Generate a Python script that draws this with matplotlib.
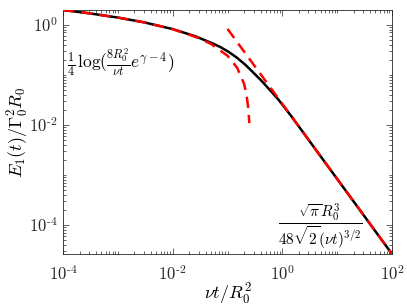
import numpy as np
import matplotlib
matplotlib.use("Agg")
import matplotlib.pyplot as plt
from matplotlib.ticker import LogLocator, NullFormatter, FixedLocator, FuncFormatter

plt.rcParams['mathtext.fontset'] = 'cm'
plt.rcParams['font.family'] = ['DejaVu Serif']

# Exact energy curve
t_exact = [1e-4, 3e-4, 1e-3, 3e-3, 1e-2, 0.0256, 0.0518, 0.0733, 0.1038, 0.148,
           0.2095, 0.297, 0.423, 0.598, 0.849, 1.49, 3.0, 10.0, 30.0, 100.0]
E_exact = [1.967, 1.692, 1.391, 1.117, 0.818, 0.591, 0.43, 0.36, 0.289, 0.22,
           0.16, 0.11, 0.0745, 0.049, 0.0318, 0.0144, 0.00503, 0.000826, 0.000159, 2.61e-5]

# Small-time asymptote (red dashed)
t_small = [1e-4, 3e-4, 1e-3, 3e-3, 1e-2, 3e-2, 0.05, 0.1, 0.15, 0.2, 0.22, 0.24, 0.25]
E_small = [1.967, 1.692, 1.391, 1.117, 0.816, 0.541, 0.413, 0.240, 0.138, 0.0665, 0.0428, 0.021, 0.0108]

# Large-time asymptote (red dashed)
t_large = [0.1, 1.0, 10.0, 100.0]
E_large = [0.826, 0.02611, 0.000826, 2.611e-5]

x_major = [1e-4, 1e-2, 1e0, 1e2]
y_major = [1e-4, 1e-2, 1e0]

fig = plt.figure(figsize=(4.07, 3.08), dpi=100)
ax = fig.add_axes([63/407, 1-254/308, (392-63)/407, (254-10)/308])

ax.plot(t_exact, E_exact, color='black', lw=1.8, zorder=2)
ax.plot(t_small, E_small, color='#ff0000', lw=1.8, ls=(0, (4.5, 2.8)), zorder=3)
ax.plot(t_large, E_large, color='#ff0000', lw=1.8, ls=(0, (4.5, 2.8)), zorder=3)

ax.set_xscale('log')
ax.set_yscale('log')
ax.set_xlim(1e-4, 1e2)
ax.set_ylim(2.61e-5, 1.97)

def fmt(v, pos):
    e = int(round(np.log10(v)))
    if e < 0:
        return r'$10^{\text{-}%d}$' % (-e)
    return r'$10^{%d}$' % e

ax.xaxis.set_major_locator(FixedLocator(x_major))
ax.yaxis.set_major_locator(FixedLocator(y_major))
ax.xaxis.set_major_formatter(FuncFormatter(fmt))
ax.yaxis.set_major_formatter(FuncFormatter(fmt))
ax.xaxis.set_minor_locator(LogLocator(base=10, subs=np.arange(1, 10), numticks=30))
ax.yaxis.set_minor_locator(LogLocator(base=10, subs=np.arange(1, 10), numticks=30))
ax.xaxis.set_minor_formatter(NullFormatter())
ax.yaxis.set_minor_formatter(NullFormatter())

gray = '#262626'
for s in ax.spines.values():
    s.set_color(gray)
    s.set_linewidth(0.6)
ax.tick_params(which='both', direction='in', top=True, right=True, colors=gray,
               labelcolor='#262626', labelsize=12, width=0.5)
ax.tick_params(which='major', length=4)
ax.tick_params(which='minor', length=2)
ax.tick_params(axis='x', pad=8)
ax.tick_params(axis='y', pad=4)

ax.set_xlabel(r'$\nu t/R_0^2$', fontsize=13)
ax.set_ylabel(r'$E_1(t)/\Gamma_0^2 R_0$', fontsize=13)
ax.xaxis.set_label_coords((228 - 63) / 329, -(294 - 254) / 244)
ax.yaxis.set_label_coords(-(63 - 18) / 329, 0.5)
ax.xaxis.label.set_va('center')
ax.yaxis.label.set_va('center')

ax.text(0.012, 0.787, r'$\frac{1}{4}\,\log(\frac{8R_0^2}{\nu t}e^{\gamma-4})$',
        transform=ax.transAxes, ha='left', va='center', fontsize=12.5)
ax.text(0.781, 0.115, r'$\dfrac{\sqrt{\pi}R_0^3}{48\sqrt{2}(\nu t)^{3/2}}$',
        transform=ax.transAxes, ha='center', va='center', fontsize=11)

fig.savefig('out.png', dpi=100)
